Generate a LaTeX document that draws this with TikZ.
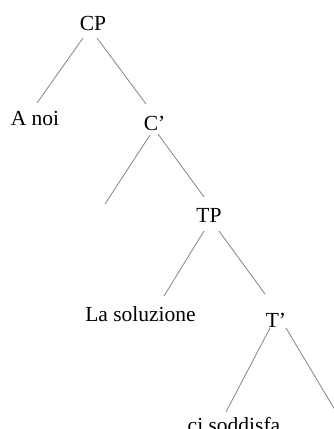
\documentclass[tikz,border=0pt]{standalone}
\usepackage{fontspec}
\setmainfont{Liberation Serif}
\usetikzlibrary{calc}
\begin{document}
\begin{tikzpicture}[x=1pt,y=-1pt,
  lbl/.style={inner sep=0pt,anchor=base,font=\fontsize{21.5}{24}\selectfont},
  branch/.style={draw=black!48,line width=0.8pt}]
\useasboundingbox (0,0) rectangle (334,429);
\fill[white] (0,0) rectangle (334,429);

% labels of the tree
\node[lbl] (cp)   at (93,30)    {CP};
\node[lbl] (anoi) at (35,125)   {A noi};
\node[lbl] (cbar) at (154.5,130) {C’};
\node[lbl] (tp)   at (209,222)  {TP};
\node[lbl] (lasol) at (140.5,321) {La soluzione};
\node[lbl] (tbar) at (276,327)  {T’};
\node[lbl] (ci)   at (234,432)  {ci soddisfa};

% free ends of branches with no label
\coordinate (cnull) at (105,204);
\coordinate (tnull) at (341,420);

% branches
\draw[branch] ($(cp.base)+(-10,8)$) -- ($(anoi.base)+(2,-22)$);
\draw[branch] ($(cp.base)+(4,8)$) -- ($(cbar.base)+(-8.5,-26)$);
\draw[branch] ($(cbar.base)+(-4.5,5)$) -- (cnull);
\draw[branch] ($(cbar.base)+(3.5,4)$) -- ($(tp.base)+(-5,-25)$);
\draw[branch] ($(tp.base)+(-5,9)$) -- ($(lasol.base)+(23.5,-25)$);
\draw[branch] ($(tp.base)+(10,9)$) -- ($(tbar.base)+(-11,-33)$);
\draw[branch] ($(tbar.base)+(-6,1)$) -- ($(ci.base)+(-8,-20)$);
\draw[branch] ($(tbar.base)+(10,1)$) -- (tnull);
\end{tikzpicture}
\end{document}
